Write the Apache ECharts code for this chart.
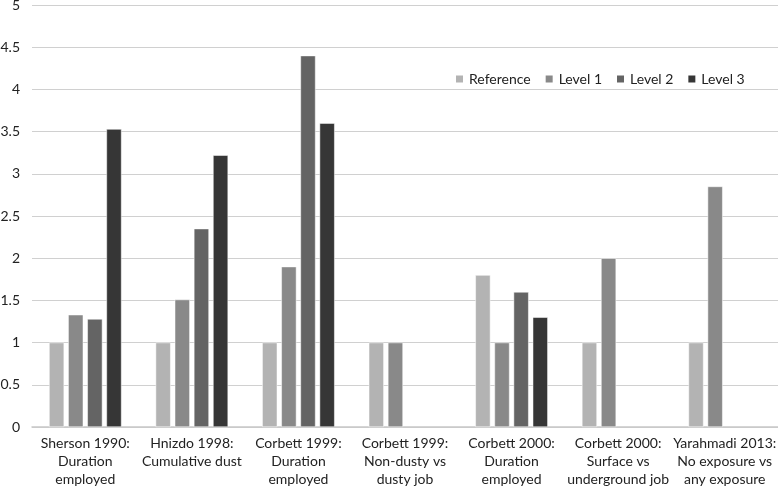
<!DOCTYPE html>
<html>
<head>
<meta charset="utf-8">
<script src="https://cdn.jsdelivr.net/npm/echarts@6/dist/echarts.min.js"></script>
<style>
  html, body { margin: 0; padding: 0; background: #fff; }
  #chart { width: 778px; height: 489px; }
</style>
</head>
<body>
<div id="chart"></div>
<script>
const categories = [
  "Sherson 1990:\nDuration\nemployed",
  "Hnizdo 1998:\nCumulative dust",
  "Corbett 1999:\nDuration\nemployed",
  "Corbett 1999:\nNon-dusty vs\ndusty job",
  "Corbett 2000:\nDuration\nemployed",
  "Corbett 2000:\nSurface vs\nunderground job",
  "Yarahmadi 2013:\nNo exposure vs\nany exposure"
];
const reference = [1, 1, 1, 1, 1.8, 1, 1];
const level1 = [1.33, 1.51, 1.9, 1, 1, 2, 2.85];
const level2 = [1.28, 2.35, 4.4, null, 1.6, null, null];
const level3 = [3.53, 3.22, 3.6, null, 1.3, null, null];

const font = "Lato";
const chart = echarts.init(document.getElementById("chart"));

function bar(name, data, color) {
  return {
    type: "bar",
    name: name,
    data: data,
    barGap: "27%",
    barCategoryGap: "32%",
    itemStyle: { color: color, borderColor: "#fff", borderWidth: 0.5 }
  };
}

chart.setOption({
  animation: false,
  textStyle: { fontFamily: font },
  legend: {
    top: 67,
    left: 449,
    itemWidth: 9,
    itemHeight: 9,
    itemGap: 13,
    icon: "rect",
    textStyle: { fontSize: 14, color: "#222", fontFamily: font }
  },
  grid: { left: 32, right: 0, top: 5, bottom: 62, outerBoundsMode: "none" },
  xAxis: {
    type: "category",
    data: categories,
    axisTick: { show: false },
    axisLine: { lineStyle: { color: "#c8c8c8", width: 1.5 } },
    axisLabel: {
      interval: 0,
      fontSize: 14,
      color: "#222",
      lineHeight: 18,
      margin: 7,
      fontFamily: font
    }
  },
  yAxis: {
    type: "value",
    min: 0,
    max: 5,
    interval: 0.5,
    axisLine: { show: false },
    axisTick: { show: false },
    splitLine: { lineStyle: { color: "#d0d0d0", width: 1.2 } },
    axisLabel: { fontSize: 14, color: "#222", margin: 12, fontFamily: font }
  },
  series: [
    bar("Reference", reference, "#b3b3b3"),
    bar("Level 1", level1, "#898989"),
    bar("Level 2", level2, "#646464"),
    bar("Level 3", level3, "#363636")
  ]
});
</script>
</body>
</html>
